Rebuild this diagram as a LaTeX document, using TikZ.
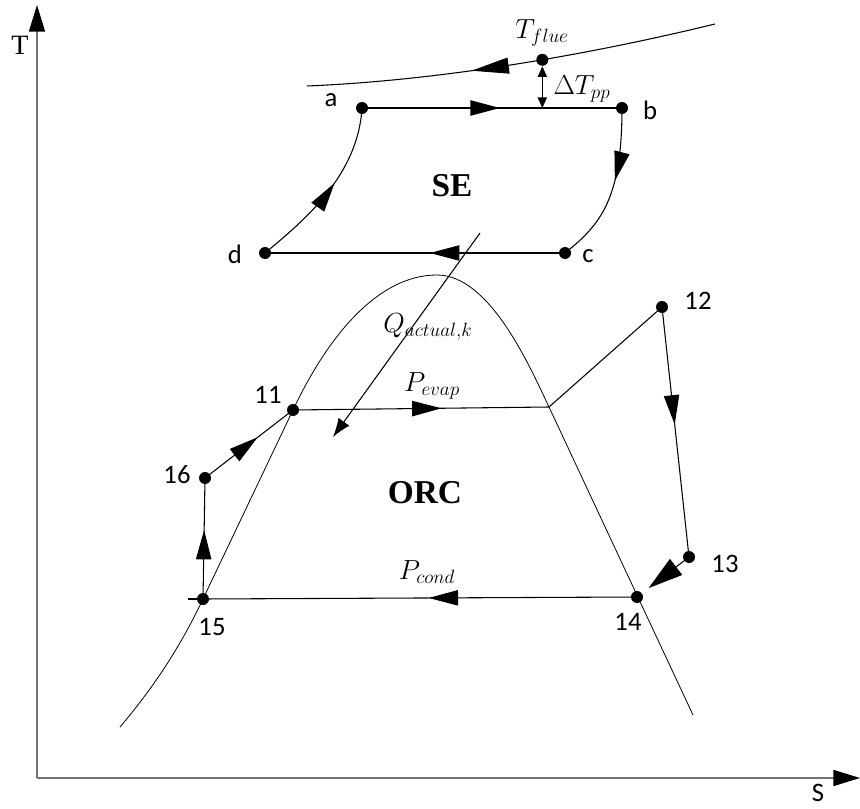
\documentclass[tikz,border=0pt]{standalone}
\usepackage{fontspec}
\setmainfont{Carlito}
\newfontfamily\serifface{Liberation Serif}
\usetikzlibrary{arrows.meta, decorations.markings, positioning}

\begin{document}
\begin{tikzpicture}[
  x=0.75pt, y=-0.75pt,
  dot/.style={circle, fill=black, inner sep=0pt, minimum size=9pt},
  lbl/.style={font=\fontsize{20}{22}\selectfont, inner sep=0pt},
  mlbl/.style={font=\fontsize{22}{24}\selectfont, inner sep=0pt},
  cyc/.style={font=\serifface\bfseries\fontsize{25}{27}\selectfont, inner sep=0pt},
  line/.style={line width=0.8pt},
  flow/.style={line, postaction={decorate},
    decoration={markings, mark=at position #1 with {\arrow{Triangle[length=22pt,width=11.5pt]}}}},
  flow/.default=0.55,
  axis/.style={line width=1.3pt, draw=black!55,
    -{Triangle[length=20pt,width=12pt,color=black]}}
]
  \useasboundingbox (0,0) rectangle (860,809);

  %% axes
  \coordinate (O) at (37,778);
  \coordinate (Ttop) at (37,5);
  \coordinate (Sright) at (860,778);
  \draw[axis] (O) -- (Ttop);
  \draw[axis] (O) -- (Sright);
  \node[font=\serifface\fontsize{21}{23}\selectfont] (Tlab) at (20,45) {T};
  \node[lbl] (Slab) at (818,793) {S};

  %% flue gas line
  \draw[line, postaction={decorate}, decoration={markings,
      mark=at position 0.6 with {\arrow{Triangle[length=28pt,width=12pt]}}}]
    (715,24) .. controls (600,52) and (450,80) .. (307,86)
    node[dot, pos=0.45] (flue) {};
  \node[mlbl] (Tflue) at (542,33) {$T_{flue}$};

  %% SE cycle
  \node[dot] (a) at (362,108) {};
  \node[dot] (b) at (622,108) {};
  \node[dot] (c) at (565,253) {};
  \node[dot] (d) at (265,253) {};
  \coordinate (pp) at (flue |- a);
  \draw[line, {Triangle[length=8pt,width=7pt]}-{Triangle[length=8pt,width=7pt]}] (flue) -- (pp);
  \node[mlbl] (dTpp) at (582,89) {$\Delta T_{pp}$};

  \draw[flow=0.53] (a.center) -- (b.center);
  \draw[flow=0.45] (b.center) .. controls (622,200) and (600,225) .. (c.center);
  \draw[flow=0.45] (c.center) -- (d.center);
  \draw[flow=0.55] (d.center) .. controls (305,220) and (358,175) .. (a.center);

  \node[lbl] (la) at (331,100) {a};
  \node[lbl] (lb) at (650,110) {b};
  \node[lbl] (lc) at (588,256) {c};
  \node[lbl] (ld) at (235,254) {d};
  \node[cyc] (SE) at (452,186) {SE};

  %% saturation dome
  \draw[line width=0.6pt] (120,727) .. controls (160,680) and (185,637) .. (203,599)
    -- (293,410) .. controls (330,332) and (380,275) .. (437,275)
    .. controls (490,275) and (530,367) .. (549,407) -- (693,715);

  %% heat transfer
  \coordinate (qs) at (480,233);
  \coordinate (qe) at (333,437);
  \draw[line, -{Latex[length=14pt,width=10pt]}] (qs) -- (qe);
  \node[mlbl] (Q) at (428,327) {$Q_{actual,k}$};

  %% ORC cycle
  \node[dot] (p11) at (293,410) {};
  \coordinate (sat) at (549,407);
  \node[dot] (p12) at (662,307) {};
  \node[dot] (p13) at (689,557) {};
  \node[dot] (p14) at (637,597) {};
  \node[dot] (p15) at (203,599) {};
  \node[dot] (p16) at (205,478) {};
  \coordinate (stub) at (188,599);

  \draw[flow=0.58] (p11.center) -- (sat);
  \draw[line] (sat) -- (p12.center);
  \draw[flow=0.47] (p12.center) -- (p13.center);
  \draw[line, -{Triangle[length=26pt,width=15pt]}, shorten >=11pt] (p13.center) -- (p14.center);
  \draw[flow=0.48] (p14.center) -- (p15.center);
  \draw[line] (p15.center) -- (stub);
  \draw[flow=0.57] (p15.center) -- (p16.center);
  \draw[flow=0.6] (p16.center) -- (p11.center);

  \node[mlbl] (Pevap) at (432,386) {$P_{evap}$};
  \node[mlbl] (Pcond) at (427,572) {$P_{cond}$};
  \node[cyc] (ORC) at (425,493) {ORC};

  \node[lbl] (l11) at (268,395) {11};
  \node[lbl] (l12) at (698,301) {12};
  \node[lbl] (l13) at (725,564) {13};
  \node[lbl] (l14) at (628,622) {14};
  \node[lbl] (l15) at (212,627) {15};
  \node[lbl] (l16) at (177,475) {16};
\end{tikzpicture}
\end{document}
